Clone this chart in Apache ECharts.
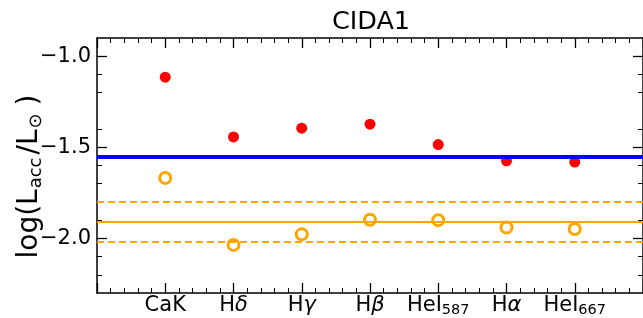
<!DOCTYPE html>
<html><head><meta charset="utf-8">
<script src="https://cdn.jsdelivr.net/npm/echarts@6/dist/echarts.min.js"></script>
<style>html,body{margin:0;padding:0;background:#fff}#c{width:643px;height:318px}</style>
</head><body><div id="c"></div>
<script>
var categories = ['CaK','Hδ','Hγ','Hβ','HeI587','Hα','HeI667'];
var tickLabels = ['CaK','H{g|δ}','H{g|γ}','H{g|β}','HeI{s|587}','H{g|α}','HeI{s|667}'];
var redValues = [-1.115,-1.443,-1.395,-1.373,-1.485,-1.574,-1.581];
var orangeValues = [-1.668,-2.036,-1.978,-1.898,-1.900,-1.940,-1.949];
var blueLevel = -1.550;
var orangeLevel = -1.907;
var orangeBand = [-1.800,-2.016];
var yTicks = [-1.0,-1.5,-2.0];

var FONT = 'DejaVu Sans';
var chart = echarts.init(document.getElementById('c'), null, {renderer:'canvas'});
function pts(vals){ return vals.map(function(v,i){ return [i+1, v]; }); }
var lineStyleAxis = {show:true,onZero:false,lineStyle:{color:'#000',width:1.5}};
var tickX = {show:true,inside:true,length:10,lineStyle:{color:'#000',width:1.3}};
var minorT = {show:true,splitNumber:5,length:5,lineStyle:{color:'#000',width:1}};
var tickY = {show:true,inside:true,length:10,customValues:yTicks,lineStyle:{color:'#000',width:1.3}};
var richX = {
  n:{fontFamily:FONT,fontSize:21,color:'#000',lineHeight:22},
  g:{fontFamily:FONT,fontSize:21,fontStyle:'italic',color:'#000',lineHeight:22},
  s:{fontFamily:FONT,fontSize:14.5,color:'#000',lineHeight:22,padding:[9,0,0,0]}
};
chart.setOption({
  animation:false,
  title:{text:'CIDA1',left:366,top:4,textAlign:'center',textStyle:{fontFamily:FONT,fontSize:25.5,fontWeight:'normal',color:'#000'}},
  grid:{left:97,top:38,width:546,height:255,outerBoundsMode:'none',containLabel:false},
  xAxis:[
    {type:'value',min:0,max:8,interval:1,position:'bottom',
      axisLine:lineStyleAxis,axisTick:tickX,minorTick:minorT,splitLine:{show:false},
      axisLabel:{margin:2,color:'#000',fontFamily:FONT,fontSize:21,verticalAlign:'top',
        formatter:function(v){ var i=Math.round(v)-1; return (i>=0&&i<tickLabels.length)?tickLabels[i]:''; },
        rich:richX}},
    {type:'value',min:0,max:8,interval:1,position:'top',
      axisLine:lineStyleAxis,axisTick:tickX,minorTick:minorT,splitLine:{show:false},
      axisLabel:{show:false}}
  ],
  yAxis:[
    {type:'value',min:-2.3,max:-0.9,interval:0.5,position:'left',
      name:'log(L{s|acc}/L{o|⊙})',nameLocation:'middle',nameGap:52,nameRotate:90,nameMoveOverlap:false,
      nameTextStyle:{fontFamily:FONT,fontSize:28,color:'#000',padding:[0,22,0,0],
        rich:{s:{fontFamily:FONT,fontSize:18,color:'#000',padding:[12,3,0,1]},
              o:{fontFamily:FONT,fontSize:18,color:'#000',padding:[12,8,0,1]}}},
      axisLine:lineStyleAxis,axisTick:tickY,minorTick:minorT,splitLine:{show:false},
      axisLabel:{margin:6,color:'#000',fontFamily:FONT,fontSize:21,
        customValues:yTicks,
        formatter:function(v){ return (v<0?'\u2212':'')+Math.abs(v).toFixed(1); }}},
    {type:'value',min:-2.3,max:-0.9,interval:0.5,position:'right',
      axisLine:lineStyleAxis,axisTick:tickY,minorTick:minorT,splitLine:{show:false},
      axisLabel:{show:false}}
  ],
  series:[
    {type:'scatter',data:pts(redValues),symbol:'circle',symbolSize:11,itemStyle:{color:'#ff0000',opacity:1},z:2},
    {type:'scatter',data:pts(orangeValues),symbol:'circle',symbolSize:11,
      itemStyle:{color:'#ffffff',borderColor:'#ffa500',borderWidth:3,opacity:1},z:4},
    {type:'line',data:[],z:5,
      markLine:{silent:true,symbol:['none','none'],label:{show:false},animation:false,
        data:[{yAxis:blueLevel,lineStyle:{color:'#0000ff',width:4,type:'solid'}}]}},
    {type:'line',data:[],z:3,
      markLine:{silent:true,symbol:['none','none'],label:{show:false},animation:false,
        data:[{yAxis:orangeLevel,lineStyle:{color:'#ffa500',width:2,type:'solid'}},
              {yAxis:orangeBand[0],lineStyle:{color:'#ffa500',width:2,type:[7,4]}},
              {yAxis:orangeBand[1],lineStyle:{color:'#ffa500',width:2,type:[7,4]}}]}}
  ]
});
</script></body></html>
